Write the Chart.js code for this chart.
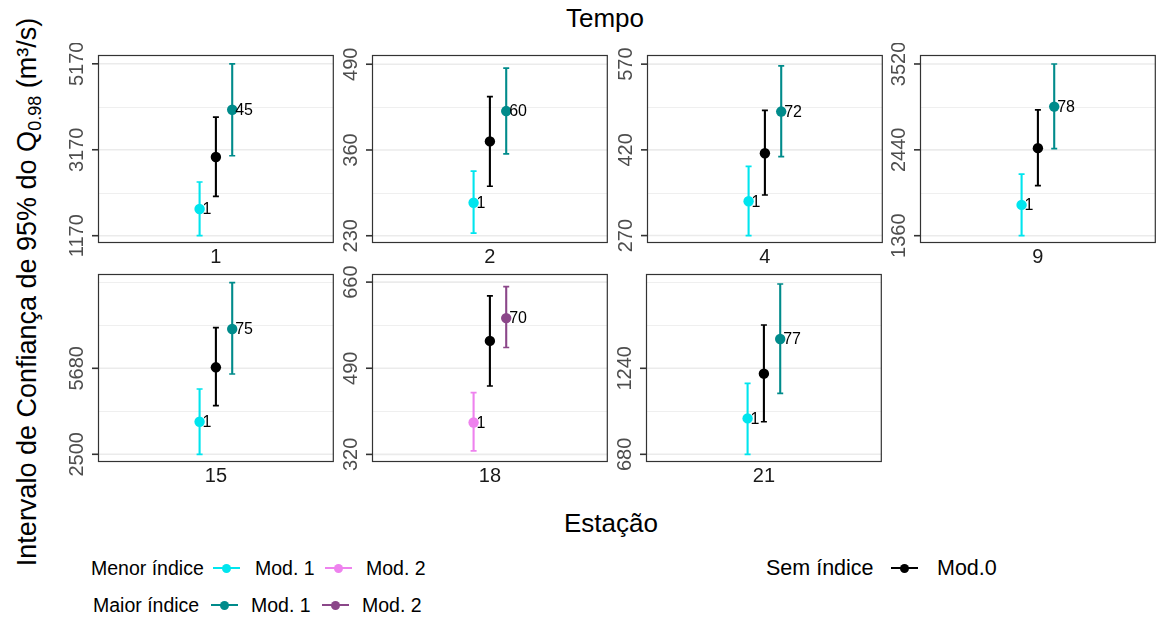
<!DOCTYPE html>
<html><head><meta charset="utf-8">
<script src="https://cdn.jsdelivr.net/npm/chart.js@4.4.1/dist/chart.umd.min.js"></script>
<style>
body{margin:0;width:1158px;height:618px;background:#fff;position:relative;overflow:hidden;font-family:"Liberation Sans",Arial,sans-serif;}
canvas{position:absolute;}
.t{position:absolute;white-space:nowrap;color:#000;line-height:28px;}
.key{position:absolute;width:27px;height:0;}
.key .ln{position:absolute;left:0;top:-1px;width:27px;height:2px;}
.key .dt{position:absolute;left:9px;top:-4.5px;width:9px;height:9px;border-radius:50%;}
</style></head><body>
<script>
// ---------- data ----------
const stations = ['1', '2', '4', '9', '15', '18', '21'];
// Sem índice – Mod.0
const mod0Est = [3001, 373, 414, 2461, 5717, 544, 1205];
const mod0Lo  = [2084, 305, 341, 1990, 4297, 455, 892];
const mod0Hi  = [3931, 441, 489, 2943, 7182, 633, 1522];
// Menor índice
const lowEst   = [1791, 280, 330, 1747, 3705, 383, 914];
const lowLo    = [1170, 234, 270, 1360, 2500, 327, 680];
const lowHi    = [2419, 328, 391, 2134, 4915, 442, 1142];
const lowModel = [1, 1, 1, 1, 1, 2, 1];
const lowLabel = ['1', '1', '1', '1', '1', '1', '1'];
// Maior índice
const highEst   = [4101, 419, 487, 2984, 7134, 589, 1431];
const highLo    = [3031, 354, 408, 2455, 5469, 531, 1077];
const highHi    = [5170, 484, 567, 3520, 8846, 651, 1789];
const highModel = [1, 1, 1, 1, 1, 2, 1];
const highLabel = ['45', '60', '72', '78', '75', '70', '77'];
// y axes
const yMin = [1000, 219, 257, 1268, 2215, 305, 630];
const yMax = [5375, 504, 586, 3633, 9168, 676, 1854];
const yMajor = [[1170, 3170, 5170], [230, 360, 490], [270, 420, 570], [1360, 2440, 3520], [2500, 5680], [320, 490, 660], [680, 1240]];
const yMinor = [[2170, 4170], [295, 425], [345, 495], [1900, 2980], [4090, 7270, 8860], [405, 575], [960, 1520, 1800]];

// ---------- styles ----------
const colLow  = {1: '#00E5EE', 2: '#EE82EE'};
const colHigh = {1: '#008B8B', 2: '#8B4789'};
const colMod0 = '#000000';
const dodge = 0.083;

const panelLeft = [98, 372, 647, 920, 98, 372, 646];
const panelTop  = [55, 55, 55, 55, 274, 274, 274];
const PW = 238, PH = 188;
const PADL = 45, PADT = 12, PADR = 3, PADB = 35;

function makePanel(i) {
  const cv = document.createElement('canvas');
  const W = PADL + PW + PADR, H = PADT + PH + PADB;
  cv.width = W; cv.height = H;
  cv.style.left = (panelLeft[i] - PADL) + 'px';
  cv.style.top = (panelTop[i] - PADT) + 'px';
  cv.style.width = W + 'px'; cv.style.height = H + 'px';
  document.body.appendChild(cv);

  const groups = [
    {x: -dodge, est: lowEst[i], lo: lowLo[i], hi: lowHi[i], col: colLow[lowModel[i]], lab: lowLabel[i]},
    {x: 0, est: mod0Est[i], lo: mod0Lo[i], hi: mod0Hi[i], col: colMod0, lab: null},
    {x: dodge, est: highEst[i], lo: highLo[i], hi: highHi[i], col: colHigh[highModel[i]], lab: highLabel[i]}
  ];

  const panelPlugin = {
    id: 'panel' + i,
    beforeDatasetsDraw(chart) {
      const ctx = chart.ctx, a = chart.chartArea;
      const ys = chart.scales.y, xs = chart.scales.x;
      ctx.save();
      ctx.beginPath(); ctx.rect(a.left, a.top, a.right - a.left, a.bottom - a.top); ctx.clip();
      ctx.strokeStyle = '#EBEBEB';
      ctx.lineWidth = 0.8;
      yMinor[i].forEach(v => {
        const y = Math.round(ys.getPixelForValue(v)) + 0.5;
        ctx.beginPath(); ctx.moveTo(a.left, y); ctx.lineTo(a.right, y); ctx.stroke();
      });
      ctx.lineWidth = 1.6;
      yMajor[i].forEach(v => {
        const y = ys.getPixelForValue(v);
        ctx.beginPath(); ctx.moveTo(a.left, y); ctx.lineTo(a.right, y); ctx.stroke();
      });
      ctx.restore();
      // error bars
      ctx.save();
      groups.forEach(g => {
        const x = xs.getPixelForValue(g.x);
        const y1 = ys.getPixelForValue(g.lo), y2 = ys.getPixelForValue(g.hi);
        ctx.strokeStyle = g.col;
        ctx.lineWidth = 2.1;
        ctx.beginPath(); ctx.moveTo(x, y1); ctx.lineTo(x, y2); ctx.stroke();
        ctx.lineWidth = 1.7;
        ctx.beginPath();
        ctx.moveTo(x - 3, y1); ctx.lineTo(x + 3, y1);
        ctx.moveTo(x - 3, y2); ctx.lineTo(x + 3, y2);
        ctx.stroke();
      });
      ctx.restore();
    },
    afterDatasetsDraw(chart) {
      const ctx = chart.ctx, a = chart.chartArea;
      const ys = chart.scales.y, xs = chart.scales.x;
      ctx.save();
      // point labels
      ctx.fillStyle = '#000';
      ctx.font = '16px "Liberation Sans", Arial, sans-serif';
      ctx.textAlign = 'left'; ctx.textBaseline = 'middle';
      groups.forEach(g => {
        if (g.lab === null) return;
        ctx.fillText(g.lab, xs.getPixelForValue(g.x) + 3, ys.getPixelForValue(g.est) + 1);
      });
      // border
      ctx.strokeStyle = '#333333'; ctx.lineWidth = 1.2;
      ctx.strokeRect(a.left + 0.5, a.top + 0.5, a.right - a.left - 1, a.bottom - a.top - 1);
      // y ticks
      ctx.lineWidth = 1.6;
      ctx.fillStyle = '#4D4D4D';
      ctx.font = '20px "Liberation Sans", Arial, sans-serif';
      yMajor[i].forEach(v => {
        const y = ys.getPixelForValue(v);
        ctx.beginPath(); ctx.moveTo(a.left - 6, y); ctx.lineTo(a.left, y); ctx.stroke();
        ctx.save();
        ctx.translate(a.left - 15, y);
        ctx.rotate(-Math.PI / 2);
        ctx.textAlign = 'center'; ctx.textBaseline = 'alphabetic';
        ctx.fillText(String(v), 0, 0);
        ctx.restore();
      });
      // x label
      ctx.fillStyle = '#1A1A1A';
      ctx.textAlign = 'center'; ctx.textBaseline = 'middle';
      ctx.fillText(stations[i], xs.getPixelForValue(0), a.bottom + 14);
      ctx.restore();
    }
  };

  new Chart(cv, {
    type: 'scatter',
    data: {
      datasets: groups.map((g, k) => ({
        label: ['Menor índice', 'Sem índice', 'Maior índice'][k],
        data: [{x: g.x, y: g.est}],
        backgroundColor: g.col,
        borderColor: g.col,
        pointRadius: 5.2,
        pointBorderWidth: 0,
        pointHoverRadius: 5.2
      }))
    },
    options: {
      responsive: false,
      animation: false,
      devicePixelRatio: 1,
      events: [],
      layout: {padding: {left: PADL, top: PADT, right: PADR, bottom: PADB}},
      plugins: {legend: {display: false}, tooltip: {enabled: false}},
      scales: {
        x: {type: 'linear', min: -0.6, max: 0.6, display: false},
        y: {type: 'linear', min: yMin[i], max: yMax[i], display: false}
      }
    },
    plugins: [panelPlugin]
  });
}
for (let i = 0; i < stations.length; i++) makePanel(i);

// ---------- titles & legend (HTML text) ----------
function addText(html, cx, cy, size, align) {
  const d = document.createElement('div');
  d.className = 't';
  d.innerHTML = html;
  d.style.fontSize = size + 'px';
  document.body.appendChild(d);
  const w = d.offsetWidth;
  d.style.top = (cy - 14) + 'px';
  d.style.left = (align === 'left' ? cx : cx - w / 2) + 'px';
  return d;
}
addText('Tempo', 605, 18, 26);
addText('Estação', 611, 523, 26);

const yt = document.createElement('div');
yt.className = 't';
yt.style.fontSize = '27px';
yt.style.width = '700px';
yt.style.textAlign = 'center';
yt.style.left = (27 - 350) + 'px';
yt.style.top = (292 - 14) + 'px';
yt.style.transform = 'rotate(-90deg)';
yt.innerHTML = 'Intervalo de Confiança de 95% do Q<sub style="font-size:18px;vertical-align:-5px;line-height:0">0.98</sub> (m³/s)';
document.body.appendChild(yt);

function addKey(x, cy, col) {
  const k = document.createElement('div');
  k.className = 'key';
  k.style.left = x + 'px'; k.style.top = cy + 'px';
  k.innerHTML = '<div class="ln" style="background:' + col + '"></div><div class="dt" style="background:' + col + '"></div>';
  document.body.appendChild(k);
}
const LF = 19.5;
addText('Menor índice', 91, 568, LF, 'left');
addKey(213, 568, colLow[1]);
addText('Mod. 1', 255, 568, LF, 'left');
addKey(325, 568, colLow[2]);
addText('Mod. 2', 366, 568, LF, 'left');
addText('Maior índice', 93, 605, LF, 'left');
addKey(211, 605, colHigh[1]);
addText('Mod. 1', 251, 605, LF, 'left');
addKey(322, 605, colHigh[2]);
addText('Mod. 2', 362, 605, LF, 'left');
addText('Sem índice', 766, 568, 21.5, 'left');
addKey(891, 568, colMod0);
addText('Mod.0', 937, 568, 21.5, 'left');
</script>
</body></html>
